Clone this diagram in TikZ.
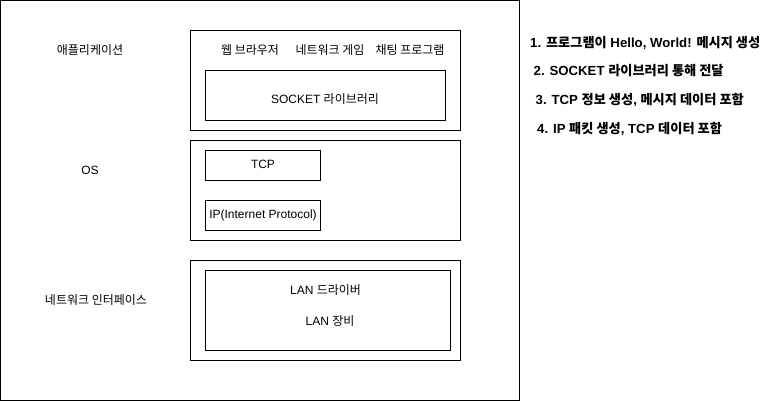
\documentclass[tikz,border=0pt]{standalone}
\usepackage{fontspec}
\setmainfont{Liberation Sans}
\newfontfamily\krfont{Noto Sans CJK KR}
\newcommand\K[1]{{\krfont #1}}
\begin{document}
\begin{tikzpicture}[x=1pt,y=-1pt,
  box/.style={draw=black,line width=1pt},
  lbl/.style={inner sep=0pt,font=\fontsize{12}{14}\selectfont},
  note/.style={inner sep=0pt,anchor=west,font=\fontsize{13.2}{15}\selectfont\bfseries}]
\useasboundingbox[fill=white] (0,0) rectangle (771,401);
% outer frame
\draw[box] (0.5,0.5) rectangle (519.5,400.5);
% application layer
\draw[box] (190.5,30.5) rectangle (460.5,130.5);
\draw[box] (205.5,70.5) rectangle (445.5,120.5);
\node[lbl] (app) at (90,50) {\K{애플리케이션}};
\node[lbl] (web) at (250,50) {\K{웹 브라우저}};
\node[lbl] (game) at (330,50) {\K{네트워크 게임}};
\node[lbl] (chat) at (410,50) {\K{채팅 프로그램}};
\node[lbl] (sock) at (325,99) {SOCKET \K{라이브러리}};
% OS layer
\draw[box] (190.5,140.5) rectangle (460.5,240.5);
\draw[box] (205.5,150.5) rectangle (320.5,180.5);
\draw[box] (205.5,200.5) rectangle (320.5,230.5);
\node[lbl] (os) at (90,170) {OS};
\node[lbl] (tcp) at (263,164) {TCP};
\node[lbl] (ip) at (263,215) {IP(Internet Protocol)};
% network interface
\draw[box] (190.5,260.5) rectangle (460.5,360.5);
\draw[box] (205.5,270.5) rectangle (450.5,350.5);
\node[lbl] (nif) at (96,300) {\K{네트워크 인터페이스}};
\node[lbl] (drv) at (325.5,290) {LAN \K{드라이버}};
\node[lbl] (dev) at (330,321) {LAN \K{장비}};
% notes
\node[note] (n1) at (530,42.5) {1. \K{프로그램이} Hello, World! \K{메시지 생성}};
\node[note] (n2) at (533.5,71) {2. SOCKET \K{라이브러리 통해 전달}};
\node[note] (n3) at (535.5,100) {3. TCP \K{정보 생성}, \K{메시지 데이터 포함}};
\node[note] (n4) at (537,129) {4. IP \K{패킷 생성}, TCP \K{데이터 포함}};
\end{tikzpicture}
\end{document}
